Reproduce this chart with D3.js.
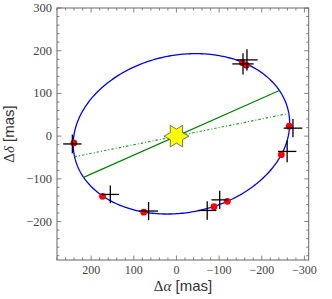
<!DOCTYPE html>
<html>
<head>
<meta charset="utf-8">
<script src="https://cdn.jsdelivr.net/npm/d3@7"></script>
<style>
  body { margin: 0; background: #fff; }
  svg { display: block; }
</style>
</head>
<body>
<script>
// observed positions (crosses) with errors, in mas
var obsAlpha = [244.0, 155.0, 65.3, -72.1, -101.4, -259.5, -273.1, -156.0, -165.3];
var obsDelta = [-18.3, -136.5, -175.4, -174.0, -149.2, -35.8, 18.7, 169.1, 178.5];
var obsErrA  = [21.5, 20.6, 22.2, 21.5, 19.4, 21.5, 21.9, 25, 25];
var obsErrD  = [21.9, 20.7, 21.5, 21.5, 21.5, 25.3, 21.5, 25, 25];

// fitted positions (red dots)
var fitAlpha = [240.5, 173.3, 76.6, -88.1, -119.4, -245.9, -264.2, -154.6, -163.9];
var fitDelta = [-15.9, -141.0, -178.0, -165.1, -152.7, -43.3, 23.4, 172.1, 165.8];

// apparent orbit ellipse: centre (alpha, delta), semi-axes, tilt in degrees
var orbitCentre = [-11.7, 5.4];
var orbitAxes = [256.2, 184.3];
var orbitTilt = [11.65];

// lines through the star (direction angles, degrees from the -alpha axis)
var apsidesAngle = [23.9];
var nodesAngle = [11.4];

var xTicks = [200, 100, 0, -100, -200, -300];
var yTicks = [300, 200, 100, 0, -100, -200];

var width = 332, height = 299;
var mLeft = 57, mRight = 308.7, mTop = 8, mBottom = 260;

var x = d3.scaleLinear().domain([280, -310]).range([mLeft, mRight]);
var y = d3.scaleLinear().domain([-290, 300]).range([mBottom, mTop]);

var svg = d3.select('body').append('svg')
  .attr('width', width)
  .attr('height', height);

// ellipse helpers in (u = -alpha, v = delta)
var phi = orbitTilt[0] * Math.PI / 180;
var uc = -orbitCentre[0], vc = orbitCentre[1];
var A = orbitAxes[0], B = orbitAxes[1];

function ellipsePoint(t) {
  var u = uc + A * Math.cos(phi) * Math.cos(t) - B * Math.sin(phi) * Math.sin(t);
  var v = vc + A * Math.sin(phi) * Math.cos(t) + B * Math.cos(phi) * Math.sin(t);
  return [-u, v];
}

// where a line through the star meets the ellipse
function chord(angleDeg) {
  var a = angleDeg * Math.PI / 180;
  var du = Math.cos(a), dv = Math.sin(a);
  // to ellipse frame
  var ox = (0 - uc) * Math.cos(phi) + (0 - vc) * Math.sin(phi);
  var oy = -(0 - uc) * Math.sin(phi) + (0 - vc) * Math.cos(phi);
  var dx = du * Math.cos(phi) + dv * Math.sin(phi);
  var dy = -du * Math.sin(phi) + dv * Math.cos(phi);
  var qa = dx * dx / (A * A) + dy * dy / (B * B);
  var qb = 2 * (ox * dx / (A * A) + oy * dy / (B * B));
  var qc = ox * ox / (A * A) + oy * oy / (B * B) - 1;
  var disc = Math.sqrt(qb * qb - 4 * qa * qc);
  var t1 = (-qb - disc) / (2 * qa), t2 = (-qb + disc) / (2 * qa);
  return [[-t1 * du, t1 * dv], [-t2 * du, t2 * dv]];
}

var plot = svg.append('g');

var line = d3.line().x(function(d) { return x(d[0]); }).y(function(d) { return y(d[1]); });

// orbit
var orbitPts = d3.range(0, 361).map(function(i) { return ellipsePoint(i * Math.PI / 180); });
plot.append('path')
  .attr('d', line(orbitPts) + 'Z')
  .attr('fill', 'none')
  .attr('stroke', '#0000ff')
  .attr('stroke-width', 1.3);

plot.append('path')
  .attr('d', line(chord(nodesAngle[0])))
  .attr('fill', 'none')
  .attr('stroke', '#2a9e2a')
  .attr('stroke-width', 1.2)
  .attr('stroke-dasharray', '2.5,2,1,2');

plot.append('path')
  .attr('d', line(chord(apsidesAngle[0])))
  .attr('fill', 'none')
  .attr('stroke', '#008000')
  .attr('stroke-width', 1.2);

// star
var starPts = d3.range(12).map(function(i) {
  var r = i % 2 === 0 ? 12.5 : 7;
  var a = i * Math.PI / 6;
  return [x(0) + r * Math.cos(a), y(0) + r * Math.sin(a)];
});
plot.append('polygon')
  .attr('points', starPts.map(function(p) { return p.join(','); }).join(' '))
  .attr('fill', '#ffff00')
  .attr('stroke', '#555')
  .attr('stroke-width', 0.8);

// fitted points
plot.selectAll('.fit')
  .data(d3.range(fitAlpha.length))
  .enter().append('circle')
  .attr('cx', function(i) { return x(fitAlpha[i]); })
  .attr('cy', function(i) { return y(fitDelta[i]); })
  .attr('r', 3.4)
  .attr('fill', '#ff0000');

// observations
var obs = plot.selectAll('.obs')
  .data(d3.range(obsAlpha.length))
  .enter().append('g')
  .attr('stroke', '#000')
  .attr('stroke-width', 1.3);
obs.append('line')
  .attr('x1', function(i) { return x(obsAlpha[i] + obsErrA[i]); })
  .attr('x2', function(i) { return x(obsAlpha[i] - obsErrA[i]); })
  .attr('y1', function(i) { return y(obsDelta[i]); })
  .attr('y2', function(i) { return y(obsDelta[i]); });
obs.append('line')
  .attr('x1', function(i) { return x(obsAlpha[i]); })
  .attr('x2', function(i) { return x(obsAlpha[i]); })
  .attr('y1', function(i) { return y(obsDelta[i] + obsErrD[i]); })
  .attr('y2', function(i) { return y(obsDelta[i] - obsErrD[i]); });

// frame with inward ticks on all sides
var frameColor = '#666';
var minorX = d3.range(-300, 281, 20);
var minorY = d3.range(-280, 301, 20);

function tickLen(v) { return v % 100 === 0 ? 4.5 : 2.5; }

var ticks = svg.append('g').attr('stroke', frameColor).attr('stroke-width', 0.8);
minorX.forEach(function(v) {
  var px = x(v);
  ticks.append('line').attr('x1', px).attr('x2', px).attr('y1', mBottom).attr('y2', mBottom - tickLen(v));
  ticks.append('line').attr('x1', px).attr('x2', px).attr('y1', mTop).attr('y2', mTop + tickLen(v));
});
minorY.forEach(function(v) {
  var py = y(v);
  ticks.append('line').attr('y1', py).attr('y2', py).attr('x1', mLeft).attr('x2', mLeft + tickLen(v));
  ticks.append('line').attr('y1', py).attr('y2', py).attr('x1', mRight).attr('x2', mRight - tickLen(v));
});

svg.append('rect')
  .attr('x', mLeft).attr('y', mTop)
  .attr('width', mRight - mLeft).attr('height', mBottom - mTop)
  .attr('fill', 'none')
  .attr('stroke', frameColor)
  .attr('stroke-width', 1);

function fmt(v) { return v < 0 ? '\u2212' + (-v) : '' + v; }

svg.append('g').selectAll('text')
  .data(xTicks)
  .enter().append('text')
  .attr('x', function(d) { return x(d); })
  .attr('y', 274)
  .attr('text-anchor', 'middle')
  .attr('font-family', '"Liberation Serif", serif')
  .attr('font-size', 12)
  .attr('fill', '#444')
  .text(fmt);

svg.append('g').selectAll('text')
  .data(yTicks)
  .enter().append('text')
  .attr('x', 52)
  .attr('y', function(d) { return y(d) + 4; })
  .attr('text-anchor', 'end')
  .attr('font-family', '"Liberation Serif", serif')
  .attr('font-size', 12.5)
  .attr('fill', '#444')
  .text(fmt);

// axis labels
var xl = svg.append('text')
  .attr('x', 183)
  .attr('y', 291)
  .attr('text-anchor', 'middle')
  .attr('fill', '#333')
  .attr('font-size', 15);
xl.append('tspan').attr('font-family', '"Liberation Serif", serif').text('\u0394');
xl.append('tspan').attr('font-family', '"Liberation Serif", serif').attr('font-style', 'italic').text('\u03b1');
xl.append('tspan').attr('font-family', '"Liberation Sans", sans-serif').text(' [mas]');

var yl = svg.append('text')
  .attr('transform', 'translate(14,134) rotate(-90)')
  .attr('text-anchor', 'middle')
  .attr('fill', '#333')
  .attr('font-size', 15);
yl.append('tspan').attr('font-family', '"Liberation Serif", serif').text('\u0394');
yl.append('tspan').attr('font-family', '"Liberation Serif", serif').attr('font-style', 'italic').text('\u03b4');
yl.append('tspan').attr('font-family', '"Liberation Sans", sans-serif').text(' [mas]');
</script>
</body>
</html>
